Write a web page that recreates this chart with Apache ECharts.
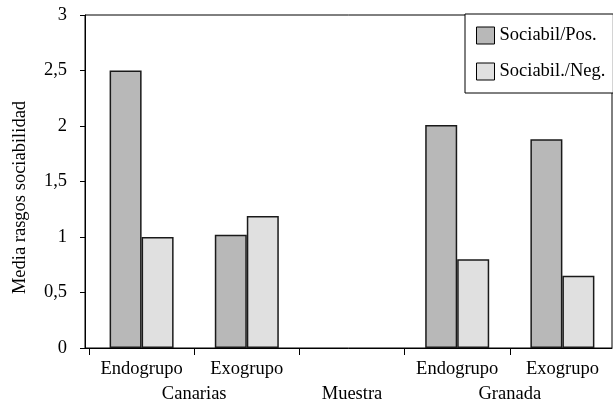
<!DOCTYPE html>
<html>
<head>
<meta charset="utf-8">
<script src="https://cdn.jsdelivr.net/npm/echarts@6/dist/echarts.min.js"></script>
<style>
html,body{margin:0;padding:0;background:#fff;}
#chart{width:613px;height:401px;}
</style>
</head>
<body>
<div id="chart"></div>
<script>
const categories = ['Endogrupo', 'Exogrupo', '', 'Endogrupo', 'Exogrupo'];
const sociabilPos = [2.5, 1.02, null, 2.01, 1.88];
const sociabilNeg = [1.0, 1.19, null, 0.8, 0.65];
const groupLabels = ['Canarias', 'Muestra', 'Granada'];
const groupLabelAt = [1, 2.5, 4];
const yTicks = [0, 0.5, 1, 1.5, 2, 2.5, 3];

const FONT = 'Liberation Serif';
const FS = 18.5;
const yMin = yTicks[0], yMax = yTicks[yTicks.length - 1];
const chart = echarts.init(document.getElementById('chart'), null, {renderer: 'canvas'});
chart.setOption({
  backgroundColor: '#fff',
  animation: false,
  textStyle: {fontFamily: FONT, color: '#000'},
  grid: [
    {left: 85, right: 1, top: 15, bottom: 53, outerBoundsMode: 'none', containLabel: false,
     show: true, borderColor: '#000', borderWidth: 1, backgroundColor: 'transparent'},
    {left: 89, right: -2, top: 15, bottom: 53, outerBoundsMode: 'none', containLabel: false, show: false}
  ],
  legend: {
    orient: 'vertical',
    left: 465, top: 14,
    padding: [12, 8, 12, 11],
    itemGap: 17,
    itemWidth: 18, itemHeight: 17,
    icon: 'rect',
    backgroundColor: '#fff',
    borderColor: '#000', borderWidth: 1,
    itemStyle: {borderColor: '#000', borderWidth: 1},
    textStyle: {fontFamily: FONT, fontSize: FS, color: '#000'},
    data: ['Sociabil/Pos.', 'Sociabil./Neg.']
  },
  xAxis: [{
    gridIndex: 0,
    type: 'category',
    data: categories,
    axisLine: {lineStyle: {color: '#000', width: 1}},
    axisTick: {show: false},
    axisLabel: {show: false}
  }, {
    gridIndex: 1,
    type: 'category',
    data: categories,
    axisLine: {show: false},
    axisTick: {show: true, interval: 0, length: 7, lineStyle: {color: '#000'}},
    axisLabel: {interval: 0, fontFamily: FONT, fontSize: FS, color: '#000', margin: 12}
  }, {
    gridIndex: 1,
    type: 'value',
    position: 'bottom',
    min: 0, max: 5, interval: 0.5,
    offset: 27,
    axisLine: {show: false},
    axisTick: {show: false},
    splitLine: {show: false},
    axisLabel: {
      fontFamily: FONT, fontSize: FS, color: '#000', margin: 10,
      hideOverlap: false,
      showMinLabel: true, showMaxLabel: true,
      formatter: function (v) {
        const i = groupLabelAt.indexOf(v);
        return i >= 0 ? groupLabels[i] : '';
      }
    }
  }],
  yAxis: [{
    gridIndex: 0,
    type: 'value',
    min: yMin, max: yMax, interval: 0.5,
    name: 'Media rasgos sociabilidad',
    nameLocation: 'middle',
    nameRotate: 90,
    nameGap: 55,
    nameTextStyle: {fontFamily: FONT, fontSize: FS, color: '#000', padding: [0, 32, 0, 0]},
    axisLine: {show: true, lineStyle: {color: '#000', width: 1}},
    axisTick: {show: true, length: 5, lineStyle: {color: '#000'}},
    splitLine: {show: false},
    axisLabel: {
      fontFamily: FONT, fontSize: FS, color: '#000', margin: 18,
      formatter: function (v) { return String(v).replace('.', ','); }
    }
  }, {
    gridIndex: 1,
    type: 'value',
    min: yMin, max: yMax, interval: 0.5,
    show: false
  }],
  series: [{
    name: 'Sociabil/Pos.',
    type: 'bar',
    xAxisIndex: 1, yAxisIndex: 1,
    data: sociabilPos,
    barWidth: 32,
    barGap: '0%',
    itemStyle: {color: '#b8b8b8', borderColor: '#1a1a1a', borderWidth: 1.5}
  }, {
    name: 'Sociabil./Neg.',
    type: 'bar',
    xAxisIndex: 1, yAxisIndex: 1,
    data: sociabilNeg,
    barWidth: 32,
    barGap: '0%',
    itemStyle: {color: '#e0e0e0', borderColor: '#1a1a1a', borderWidth: 1.5}
  }]
});
</script>
</body>
</html>
